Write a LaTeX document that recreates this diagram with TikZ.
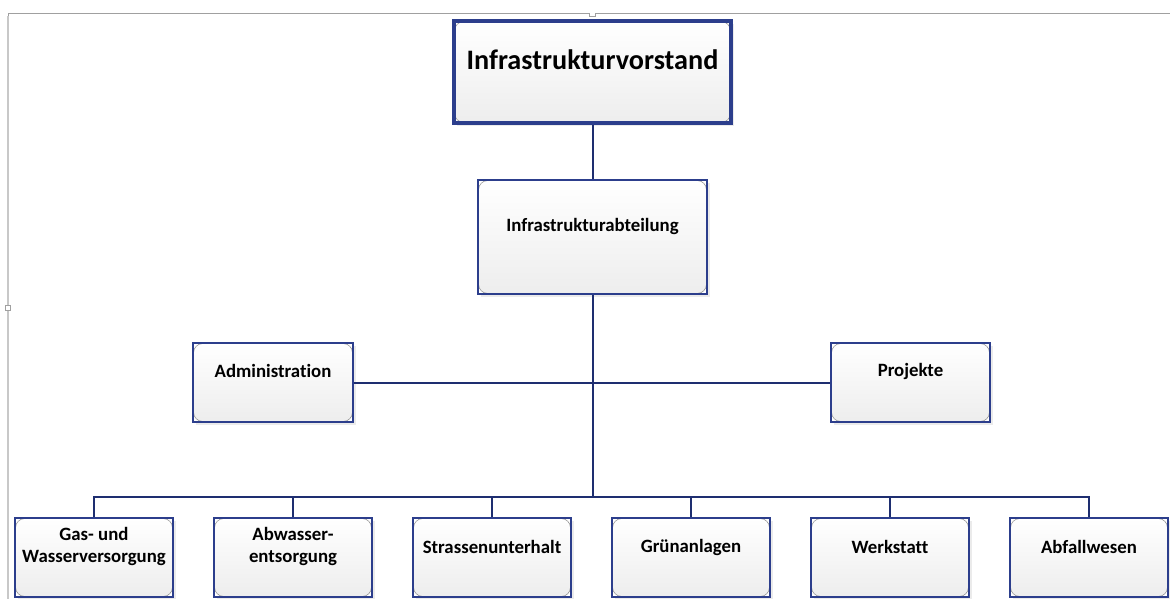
\documentclass[tikz,border=0pt]{standalone}
\usepackage{fontspec}
\setmainfont{Carlito}[Ligatures=NoCommon]
\usetikzlibrary{shadows,calc}
\definecolor{boxblue}{RGB}{44,62,140}
\definecolor{linkblue}{RGB}{30,46,112}
\definecolor{framegray}{RGB}{160,160,160}
\definecolor{railgray}{RGB}{200,200,200}
\tikzset{
  orgbox/.style={rectangle, draw=boxblue, line width=1.5pt, fill=white,
    inner sep=0pt,
    drop shadow={shadow xshift=3pt, shadow yshift=-3pt, fill=black!20, opacity=0.4},
    path picture={
      \shade[top color=white, bottom color=black!7, draw=black!45, line width=0.5pt,
        rounded corners=9pt]
        ([shift={(0.6pt,-0.6pt)}]path picture bounding box.north west) rectangle
        ([shift={(-0.6pt,0.6pt)}]path picture bounding box.south east);
    }},
  smallbox/.style={orgbox, minimum width=158pt, minimum height=79pt},
  boxlabel/.style={font=\bfseries\fontsize{18.8}{22}\selectfont, align=center, inner sep=0pt},
  link/.style={draw=linkblue, line width=2pt},
}
\begin{document}
\begin{tikzpicture}[x=1pt,y=1pt]
\useasboundingbox (0,0) rectangle (1170,-599);
% window frame
\draw[framegray, line width=0.8pt] (10,-13) -- (1170,-13);
\draw[railgray, line width=1.4pt] (8,-16) -- (8,-599);
\draw[framegray, line width=0.6pt] (8,-16) -- (8,-13) -- (10,-13);
\draw[framegray, line width=0.6pt, fill=white] (589,-13) -- (589,-16) -- (595,-16) -- (595,-13);
\draw[framegray, line width=0.6pt, fill=white] (5.5,-305.5) rectangle (10.5,-310.5);

% boxes
\node[orgbox, line width=3.5pt, minimum width=277pt, minimum height=102pt] (vor) at (592.5,-72) {};
\node[orgbox, minimum width=229pt, minimum height=114pt] (abt) at (592.5,-237) {};
\node[orgbox, minimum width=160pt, minimum height=79pt] (adm) at (273,-382.5) {};
\node[orgbox, minimum width=159pt, minimum height=79pt] (proj) at (910.5,-382.5) {};
\node[smallbox] (gas) at (94,-557.5) {};
\node[smallbox] (abw) at (293,-557.5) {};
\node[smallbox] (str) at (492,-557.5) {};
\node[smallbox] (gruen) at (691,-557.5) {};
\node[smallbox] (werk) at (890,-557.5) {};
\node[smallbox] (abf) at (1089,-557.5) {};

% texts
\node[boxlabel, font=\bfseries\fontsize{28.2}{32}\selectfont] (vor-t) at (592.5,-60) {Infrastrukturvorstand};
\node[boxlabel] (abt-t) at (592.5,-226) {Infrastrukturabteilung};
\node[boxlabel] (adm-t) at (273,-371) {Administration};
\node[boxlabel] (proj-t) at (910.5,-371) {Projekte};
\node[boxlabel] (gas-t) at (94,-546.5) {Gas- und\\Wasserversorgung};
\node[boxlabel] (abw-t) at (293,-546.5) {Abwasser-\\entsorgung};
\node[boxlabel] (str-t) at (492,-547) {Strassenunterhalt};
\node[boxlabel] (gruen-t) at (691,-547) {Grünanlagen};
\node[boxlabel] (werk-t) at (890,-547) {Werkstatt};
\node[boxlabel] (abf-t) at (1089,-547) {Abfallwesen};

% connectors
\coordinate (bus) at (592.5,-497);
\path[link] (vor.south) -- (abt.north);
\path[link] (abt.south) -- (bus);
\path[link] (adm.east) -- (proj.west);
\path[link] (gas.north) |- (bus) -| (abf.north);
\foreach \b in {abw,str,gruen,werk}
  \path[link] (\b.north) -- (\b.north |- bus);
\end{tikzpicture}
\end{document}
